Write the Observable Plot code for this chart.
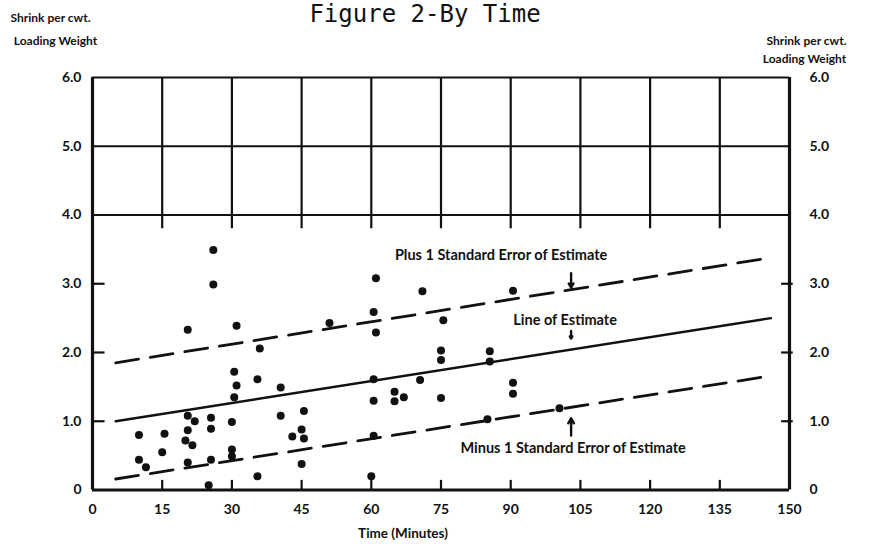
<!DOCTYPE html>
<html><head><meta charset="utf-8">
<script src="https://cdn.jsdelivr.net/npm/d3@7"></script>
<script src="https://cdn.jsdelivr.net/npm/@observablehq/plot@0.6"></script>
<style>
html,body{margin:0;padding:0;background:#fff;overflow:hidden}
#chart svg{display:block}
</style></head><body><div id="chart"></div>
<script>
// ---- data ----
const timeMin = [26,26,20.5,31,36,51,30.5,31,35.5,40.5,30.5,10,15.5,20.5,22,25.5,20.5,25.5,30,20,21.5,15,10,11.5,20.5,25.5,30,30,25,35.5,40.5,45.5,43,45,45.5,45,61,71,90.5,60.5,61,75.5,75,75,85.5,85.5,60.5,60.5,65,67,65,70.5,75,90.5,90.5,100.5,85,60.5,60];
const shrink  = [3.49,2.99,2.33,2.39,2.06,2.43,1.72,1.52,1.61,1.49,1.35,0.80,0.82,1.08,1.00,1.05,0.87,0.89,0.99,0.72,0.65,0.55,0.44,0.33,0.40,0.44,0.59,0.49,0.07,0.20,1.08,1.15,0.78,0.88,0.75,0.38,3.08,2.89,2.90,2.59,2.29,2.47,2.03,1.89,2.02,1.87,1.61,1.30,1.43,1.35,1.29,1.60,1.34,1.56,1.40,1.19,1.03,0.79,0.20];

const lineX    = [5, 146];
const estimate = [1.00, 2.50];
const plusSE   = [1.85, 3.38];
const minusSE  = [0.16, 1.66];

const xTicks  = [0,15,30,45,60,75,90,105,120,135,150];
const yTicks  = [0,1,2,3,4,5,6];
const yLabels = ["0","1.0","2.0","3.0","4.0","5.0","6.0"];
const gridY   = [4,5,6];
const tickY   = [1,2,3];

const title  = "Figure 2-By Time";
const yTitle = ["Shrink per cwt.", "Loading Weight"];
const xTitle = "Time (Minutes)";
const annX   = 103;
const annPlus  = "Plus 1 Standard Error of Estimate";
const annLine  = "Line of Estimate";
const annMinus = "Minus 1 Standard Error of Estimate";

// ---- build tables ----
const points = timeMin.map((t, i) => ({t, s: shrink[i]}));
const toLine = ys => lineX.map((x, i) => ({x, y: ys[i]}));
const at = (ys, x) => ys[0] + (ys[1] - ys[0]) * (x - lineX[0]) / (lineX[1] - lineX[0]);
const ink = "#111";
const fmtY = d => yLabels[yTicks.indexOf(d)];
const dashed = {x: "x", y: "y", stroke: ink, strokeWidth: 2.8, strokeDasharray: "23,12"};
const txt = {text: d => d, fill: ink, fontWeight: 700};

const chart = Plot.plot({
  width: 877, height: 548,
  marginTop: 77, marginBottom: 58.5, marginLeft: 92, marginRight: 88,
  x: {domain: [0, 150]},
  y: {domain: [0, 6]},
  style: {fontFamily: "Lato, 'Open Sans', sans-serif", background: "#fff", color: ink},
  marks: [
    // upper grid box
    Plot.ruleY(gridY, {x1: 0, x2: 150, stroke: ink, strokeWidth: 2.2}),
    Plot.ruleX(xTicks.slice(1, -1), {y1: 3.8, y2: 6, stroke: ink, strokeWidth: 2.2}),
    // frame
    Plot.ruleX([xTicks[0], xTicks[xTicks.length - 1]], {y1: 0, y2: 6, stroke: ink, strokeWidth: 3.2}),
    Plot.ruleY([0], {x1: 0, x2: 150, stroke: ink, strokeWidth: 2.8}),
    // tick marks
    Plot.ruleX(xTicks.slice(1, -1), {y1: 0, y2: 0.14, stroke: ink, strokeWidth: 2.2}),
    Plot.ruleY(tickY, {x1: 0, x2: 2.7, stroke: ink, strokeWidth: 2.2}),
    Plot.ruleY(tickY, {x1: 148.3, x2: 150.8, stroke: ink, strokeWidth: 2.2}),
    // regression lines
    Plot.line(toLine(plusSE), dashed),
    Plot.line(toLine(estimate), {x: "x", y: "y", stroke: ink, strokeWidth: 2.4}),
    Plot.line(toLine(minusSE), dashed),
    // observations
    Plot.dot(points, {x: "t", y: "s", r: 4, fill: ink, stroke: "none"}),
    // axes
    Plot.axisX(xTicks, {anchor: "bottom", tickSize: 0, tickPadding: 14, fontSize: 14, fontWeight: 700, label: null}),
    Plot.axisY(yTicks, {anchor: "left", tickSize: 0, tickPadding: 11, tickFormat: fmtY, fontSize: 14, fontWeight: 700, label: null}),
    Plot.axisY(yTicks, {anchor: "right", tickSize: 0, tickPadding: 20, tickFormat: fmtY, fontSize: 14, fontWeight: 700, label: null}),
    // titles
    Plot.text([title], {...txt, frameAnchor: "top", dx: -16, dy: -56, lineAnchor: "bottom", fontSize: 24, fontWeight: 400, fontFamily: "'DejaVu Sans Mono', monospace"}),
    Plot.text([yTitle[0]], {...txt, frameAnchor: "top-left", dx: -42, dy: -59, textAnchor: "middle", lineAnchor: "middle", fontSize: 12}),
    Plot.text([yTitle[1]], {...txt, frameAnchor: "top-left", dx: -37, dy: -36, textAnchor: "middle", lineAnchor: "middle", fontSize: 12}),
    Plot.text([yTitle[0]], {...txt, frameAnchor: "top-right", dx: 17, dy: -36, textAnchor: "middle", lineAnchor: "middle", fontSize: 12}),
    Plot.text([yTitle[1]], {...txt, frameAnchor: "top-right", dx: 15, dy: -18, textAnchor: "middle", lineAnchor: "middle", fontSize: 12}),
    Plot.text([xTitle], {...txt, frameAnchor: "bottom", dx: -38, dy: 43.5, lineAnchor: "middle", fontSize: 13.5}),
    // annotations
    Plot.text([annPlus], {...txt, x: annX, y: at(plusSE, annX), dx: -70, dy: -34, fontSize: 14.5}),
    Plot.text([annLine], {...txt, x: annX, y: at(estimate, annX), dx: -6, dy: -29, fontSize: 14.5}),
    Plot.text([annMinus], {...txt, x: annX, y: at(minusSE, annX), dx: 2, dy: 41, fontSize: 14.5}),
    Plot.arrow([annX], {x1: d => d, x2: d => d, y1: d => at(plusSE, d) + 0.24, y2: d => at(plusSE, d) + 0.03, stroke: ink, strokeWidth: 2.4, headLength: 7}),
    Plot.arrow([annX], {x1: d => d, x2: d => d, y1: d => at(estimate, d) + 0.27, y2: d => at(estimate, d) + 0.16, stroke: ink, strokeWidth: 2.4, headLength: 6}),
    Plot.arrow([annX], {x1: d => d, x2: d => d, y1: d => at(minusSE, d) - 0.41, y2: d => at(minusSE, d) - 0.16, stroke: ink, strokeWidth: 2.4, headLength: 7})
  ]
});
document.getElementById("chart").append(chart);
</script></body></html>
